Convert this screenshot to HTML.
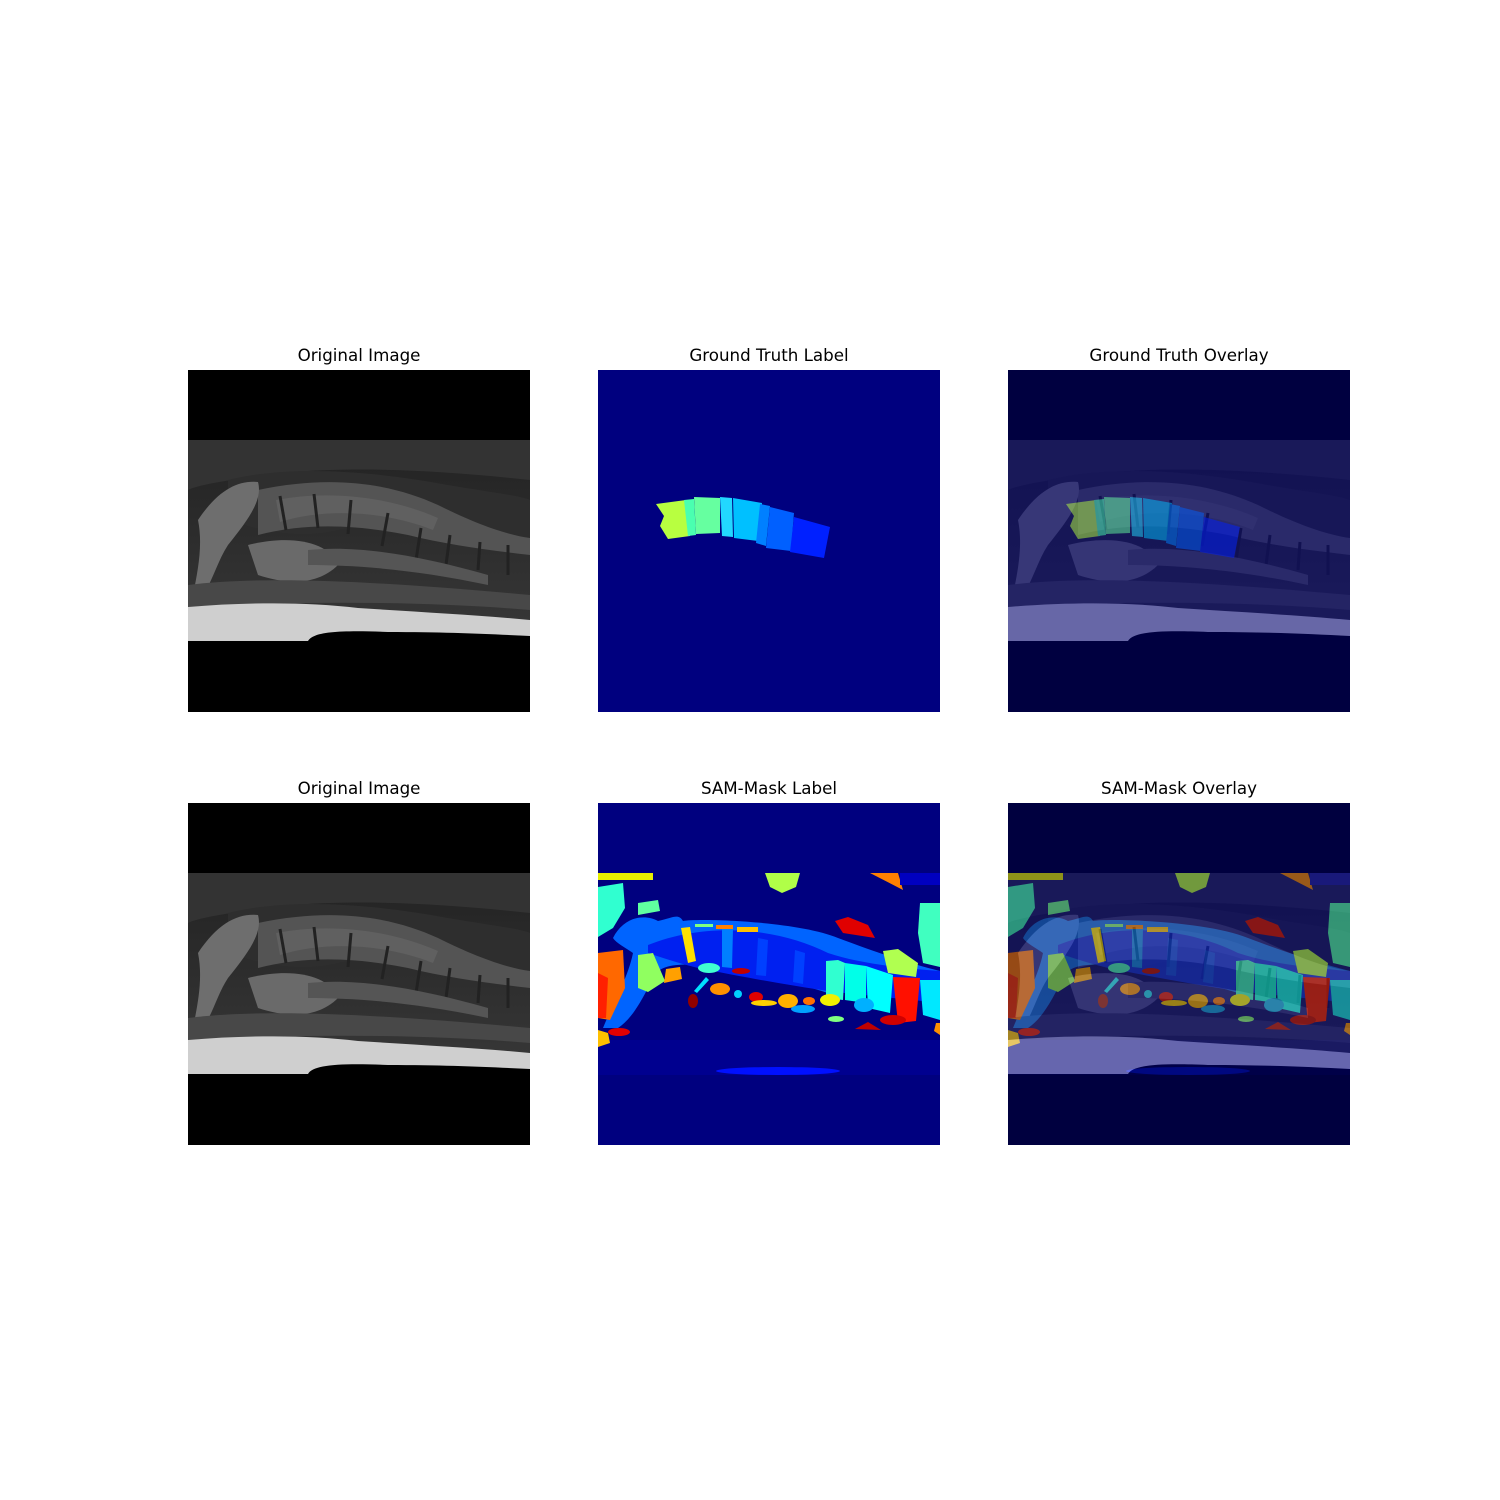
<!DOCTYPE html>
<html><head><meta charset="utf-8"><style>
body{margin:0;background:#fff;width:1500px;height:1500px;overflow:hidden}
svg{display:block}
text{font-family:"DejaVu Sans","Liberation Sans",sans-serif;font-size:16.7px;fill:#000}
</style></head><body>
<svg width="1500" height="1500" viewBox="0 0 1500 1500">
<defs>
<linearGradient id="topg" x1="0" y1="0" x2="0" y2="1"><stop offset="0" stop-color="#222"/><stop offset="1" stop-color="#383838"/></linearGradient>
<g id="mri">
  <rect x="0" y="0" width="342" height="342" fill="#000"/>
  <rect x="0" y="70" width="342" height="201" fill="url(#topg)"/>
  <path d="M0,70 H342 V110 C250,100 150,95 80,105 C40,110 10,115 0,120Z" fill="#333"/>
  <path d="M40,110 C100,95 180,100 260,115 C300,122 330,125 342,130 V170 C300,160 200,150 150,160 C110,170 70,160 40,150Z" fill="#2e2e2e"/>
  <path d="M70,120 C140,105 200,112 250,135 C290,155 320,165 342,168 V185 C300,180 260,175 220,165 C170,155 120,152 70,165Z" fill="#545454"/>
  <path d="M88,130 C140,120 200,126 250,148 L245,160 C200,142 140,137 92,152Z" fill="#606060"/>
  <g stroke="#222" stroke-width="3" fill="none">
    <path d="M92,126 L98,160"/><path d="M126,124 L130,158"/><path d="M163,130 L160,164"/><path d="M200,143 L194,176"/><path d="M233,158 L228,190"/><path d="M262,165 L258,195"/><path d="M292,172 L290,200"/><path d="M320,175 L320,205"/>
  </g>
  <path d="M10,150 C30,120 50,110 70,112 C75,130 60,150 40,175 C30,190 25,210 15,225 L5,225 C10,200 15,175 10,150Z" fill="#6e6e6e"/>
  <path d="M60,175 C100,165 140,170 150,195 C130,215 100,215 70,205Z" fill="#6a6a6a"/>
  <path d="M120,180 C170,175 230,185 300,205 L300,215 C230,200 170,195 120,195Z" fill="#555"/>
  <path d="M0,215 C80,205 200,212 342,225 V240 C250,232 120,230 0,237Z" fill="#484848"/>
  <path d="M0,237 C60,232 120,232 170,238 C230,242 290,245 342,250 V271 H0Z" fill="#cfcfcf"/>
  <path d="M120,271 C125,262 150,260 200,262 C260,262 300,264 342,266 V271Z" fill="#000"/>
</g>
<g id="gtlab">
  <polygon points="58,134 88,130 92,166 70,169 62,156 66,146" fill="#b8ff40"/>
  <polygon points="86,130 96,129 98,165 90,166" fill="#4affb0"/>
  <polygon points="96,127 122,128 122,163 98,164" fill="#66ffa0"/>
  <polygon points="122,127 134,128 135,167 124,166" fill="#22d8ff"/>
  <polygon points="135,128 164,133 160,171 136,168" fill="#00c0ff"/>
  <polygon points="162,134 172,136 168,176 158,173" fill="#0080ff"/>
  <polygon points="172,137 196,143 193,181 168,178" fill="#0060ff"/>
  <polygon points="196,147 232,157 226,188 192,182" fill="#0020ff"/>
</g>
<g id="samlab">
  <rect x="0" y="237" width="342" height="35" fill="#00008f"/>
  <rect x="0" y="70" width="55" height="7" fill="#e8f000"/>
  <polygon points="167,70 202,70 198,84 184,90 172,84" fill="#b0ff48"/>
  <polygon points="272,70 300,70 305,87" fill="#ff8000"/>
  <rect x="302" y="70" width="40" height="12" fill="#0000c0"/>
  <polygon points="0,84 25,80 27,105 15,125 0,134" fill="#30ffd0"/>
  <polygon points="40,100 60,97 62,108 40,112" fill="#60ffa0"/>
  <path d="M15,135 C25,115 45,110 60,118 C75,115 80,110 85,118 C100,115 200,118 240,135 C280,150 310,160 342,168 V178 C300,175 250,175 230,190 C200,180 150,170 100,162 C70,160 60,165 55,175 C45,195 35,215 20,225 L5,225 C15,200 30,175 35,150 C28,145 18,140 15,135Z" fill="#0064ff"/>
  <path d="M50,142 C110,118 180,125 230,150 C260,160 300,165 342,168 V200 C300,195 260,192 230,188 C190,182 150,175 100,165 C80,160 65,155 50,150Z" fill="#0020f0"/>
  <polygon points="124,125 135,126 134,165 124,164" fill="#0080ff"/>
  <polygon points="160,135 170,137 168,173 158,172" fill="#0040ff"/>
  <polygon points="197,147 207,150 205,181 195,179" fill="#0040ff"/>
  <polygon points="0,150 25,147 27,185 12,217 0,215" fill="#ff6800"/>
  <polygon points="0,170 10,175 8,215 0,215" fill="#ff2000"/>
  <polygon points="40,152 55,150 67,178 50,189 40,185" fill="#90ff60"/>
  <polygon points="68,166 82,164 84,176 66,180" fill="#ffa000"/>
  <polygon points="83,125 92,124 98,158 90,160" fill="#ffe000"/>
  <rect x="97" y="121" width="18" height="3" fill="#80ff80"/>
  <rect x="118" y="122" width="17" height="4" fill="#ff8000"/>
  <rect x="139" y="124" width="21" height="5" fill="#ffc000"/>
  <polygon points="228,158 240,157 247,160 245,197 228,195" fill="#30ffd0"/>
  <polygon points="247,160 268,163 268,200 247,197" fill="#00ffe8"/>
  <polygon points="268,163 295,172 292,210 270,205" fill="#00ffff"/>
  <polygon points="295,174 322,175 318,218 300,220" fill="#ff1000"/>
  <polygon points="322,177 342,177 342,217 325,212" fill="#00e8ff"/>
  <polygon points="285,148 300,146 320,160 318,174 290,170" fill="#b0ff50"/>
  <polygon points="322,100 342,100 342,164 325,160 320,130" fill="#40ffc0"/>
  <polygon points="237,118 250,114 270,122 277,135 245,130" fill="#e00000"/>
  <ellipse cx="111" cy="165" rx="11" ry="5" fill="#40ffd0"/>
  <ellipse cx="143" cy="168" rx="9" ry="3" fill="#c00000"/>
  <polygon points="96,188 108,174 111,177 99,190" fill="#00e0ff"/>
  <ellipse cx="95" cy="198" rx="5" ry="7" fill="#900000"/>
  <ellipse cx="122" cy="186" rx="10" ry="6" fill="#ff9000"/>
  <ellipse cx="140" cy="191" rx="4" ry="4" fill="#00d0ff"/>
  <ellipse cx="158" cy="194" rx="7" ry="5" fill="#e00000"/>
  <ellipse cx="166" cy="200" rx="13" ry="3" fill="#ffd000"/>
  <ellipse cx="190" cy="198" rx="10" ry="7" fill="#ffb000"/>
  <ellipse cx="211" cy="198" rx="6" ry="4" fill="#ff7000"/>
  <ellipse cx="232" cy="197" rx="10" ry="6" fill="#f0f000"/>
  <ellipse cx="205" cy="206" rx="12" ry="4" fill="#00a0ff"/>
  <ellipse cx="238" cy="216" rx="8" ry="3" fill="#80ff80"/>
  <polygon points="257,226 270,219 283,227" fill="#c00000"/>
  <ellipse cx="295" cy="217" rx="13" ry="5" fill="#d00000"/>
  <ellipse cx="266" cy="202" rx="10" ry="7" fill="#00b0ff"/>
  <ellipse cx="21" cy="229" rx="11" ry="4" fill="#e00000"/>
  <polygon points="0,227 10,230 12,240 0,244" fill="#ffc000"/>
  <polygon points="338,220 342,220 342,232 336,228" fill="#ff9000"/>
  <ellipse cx="180" cy="268" rx="62" ry="4" fill="#0010ff"/>
</g>
</defs>

<text x="359" y="361" text-anchor="middle">Original Image</text>
<text x="769" y="361" text-anchor="middle">Ground Truth Label</text>
<text x="1179" y="361" text-anchor="middle">Ground Truth Overlay</text>
<text x="359" y="794" text-anchor="middle">Original Image</text>
<text x="769" y="794" text-anchor="middle">SAM-Mask Label</text>
<text x="1179" y="794" text-anchor="middle">SAM-Mask Overlay</text>

<g transform="translate(188,370)"><use href="#mri"/></g>
<g transform="translate(598,370)"><rect width="342" height="342" fill="#00007f"/><use href="#gtlab"/></g>
<g transform="translate(1008,370)"><use href="#mri"/><rect width="342" height="342" fill="#00007f" opacity="0.5"/><g opacity="0.5"><use href="#gtlab"/></g></g>

<g transform="translate(188,803)"><use href="#mri"/></g>
<g transform="translate(598,803)"><rect width="342" height="342" fill="#00007f"/><use href="#samlab"/></g>
<g transform="translate(1008,803)"><use href="#mri"/><g opacity="0.5"><rect width="342" height="342" fill="#00007f"/><use href="#samlab"/></g></g>
</svg>
</body></html>
